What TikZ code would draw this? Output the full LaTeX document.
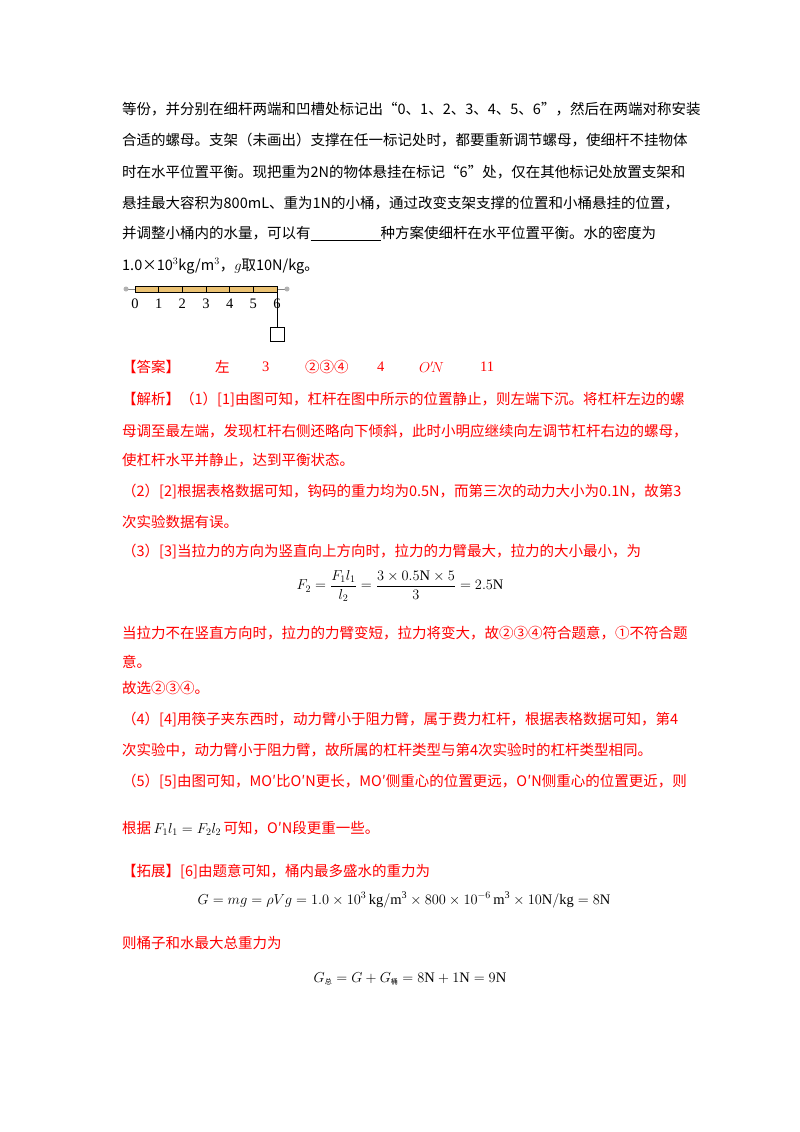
\documentclass[tikz,border=0pt]{standalone}
\usepackage{amsmath}
\usepackage{fontspec}
\setmainfont{Liberation Serif}
\newfontfamily\cjk{Noto Sans CJK SC}
\definecolor{rodcol}{HTML}{EBC273}
\tikzset{
  blk/.style={anchor=west, inner sep=0pt, font=\cjk\fontsize{14.5}{16}\selectfont},
  rd/.style={blk, text=red},
  fml/.style={inner sep=0pt, font=\fontsize{14.5}{16}\selectfont},
}
\begin{document}
\begin{tikzpicture}[x=1pt,y=-1pt]
\useasboundingbox[fill=white] (0,0) rectangle (800,1132);

% ---------- question text ----------
\node[blk] (q1) at (122,109) {等份，并分别在细杆两端和凹槽处标记出“0、1、2、3、4、5、6”，然后在两端对称安装};
\node[blk] (q2) at (122,140) {合适的螺母。支架（未画出）支撑在任一标记处时，都要重新调节螺母，使细杆不挂物体};
\node[blk] (q3) at (122,172) {时在水平位置平衡。现把重为2N的物体悬挂在标记“6”处，仅在其他标记处放置支架和};
\node[blk] (q4) at (122,203) {悬挂最大容积为800mL、重为1N的小桶，通过改变支架支撑的位置和小桶悬挂的位置，};
\node[blk] (q5) at (122,234) {并调整小桶内的水量，可以有\underline{\hspace{70pt}}种方案使细杆在水平位置平衡。水的密度为};
\node[blk] (q6) at (122,266) {1.0×10$^3$kg/m$^3$，$g$取10N/kg。};

% ---------- lever ----------
\draw[gray, line width=1pt] (124,289) -- (289,289);
\fill[gray!60] (126,289) circle (2.5) (287,289) circle (2.5);
\draw[fill=rodcol, line width=0.6pt] (135,286) rectangle (277,292);
\foreach \i in {0,...,6} {
  \draw[line width=0.8pt] (135+\i*23.67,286) -- (135+\i*23.67,292);
  \node[fml] (t\i) at (135+\i*23.67,304) {\i};
}
\coordinate (hook) at (277,289);
\node[draw, minimum size=14pt, inner sep=0pt, anchor=north] (box) at (277,327) {};
\draw[line width=0.8pt] (hook) -- (box.north);

% ---------- answer ----------
\node[rd] (ans) at (122,367) {【答案】};
\node[rd] at (215,367) {左};
\node[rd, font=\fontsize{14.5}{16}\selectfont] at (262,367) {3};
\node[rd] at (305,367) {②③④};
\node[rd, font=\fontsize{14.5}{16}\selectfont] at (377,367) {4};
\node[rd, font=\fontsize{14.5}{16}\selectfont] at (419,367) {$O'\!N$};
\node[rd, font=\fontsize{14.5}{16}\selectfont] at (480,367) {11};

\node[rd] at (122,400) {【解析】（1）[1]由图可知，杠杆在图中所示的位置静止，则左端下沉。将杠杆左边的螺};
\node[rd] at (122,431) {母调至最左端，发现杠杆右侧还略向下倾斜，此时小明应继续向左调节杠杆右边的螺母，};
\node[rd] at (122,460) {使杠杆水平并静止，达到平衡状态。};
\node[rd] at (122,492) {（2）[2]根据表格数据可知，钩码的重力均为0.5N，而第三次的动力大小为0.1N，故第3};
\node[rd] at (122,522) {次实验数据有误。};
\node[rd] at (122,552) {（3）[3]当拉力的方向为竖直向上方向时，拉力的力臂最大，拉力的大小最小，为};
\node[fml] (f1) at (400,586) {$F_2=\dfrac{F_1l_1}{l_2}=\dfrac{3\times0.5\mathrm{N}\times5}{3}=2.5\mathrm{N}$};
\node[rd] at (122,633) {当拉力不在竖直方向时，拉力的力臂变短，拉力将变大，故②③④符合题意，①不符合题};
\node[rd] at (122,662) {意。};
\node[rd] at (122,688) {故选②③④。};
\node[rd] at (122,720) {（4）[4]用筷子夹东西时，动力臂小于阻力臂，属于费力杠杆，根据表格数据可知，第4};
\node[rd] at (122,750) {次实验中，动力臂小于阻力臂，故所属的杠杆类型与第4次实验时的杠杆类型相同。};
\node[rd] at (122,782) {（5）[5]由图可知，MO′比O′N更长，MO′侧重心的位置更远，O′N侧重心的位置更近，则};
\node[rd] at (122,828) {根据\,{\color{black}$F_1l_1=F_2l_2$}\,可知，O′N段更重一些。};

\node[rd] at (122,872) {【拓展】[6]由题意可知，桶内最多盛水的重力为};
\node[fml] (f2) at (404,900) {$G=mg=\rho Vg=1.0\times10^3\,\mathrm{kg/m^3}\times800\times10^{-6}\,\mathrm{m^3}\times10\mathrm{N/kg}=8\mathrm{N}$};
\node[rd] at (122,943) {则桶子和水最大总重力为};
\node[fml] (f3) at (410,979) {$G_{\text{\cjk\scriptsize 总}}=G+G_{\text{\cjk\scriptsize 桶}}=8\mathrm{N}+1\mathrm{N}=9\mathrm{N}$};
\end{tikzpicture}
\end{document}
